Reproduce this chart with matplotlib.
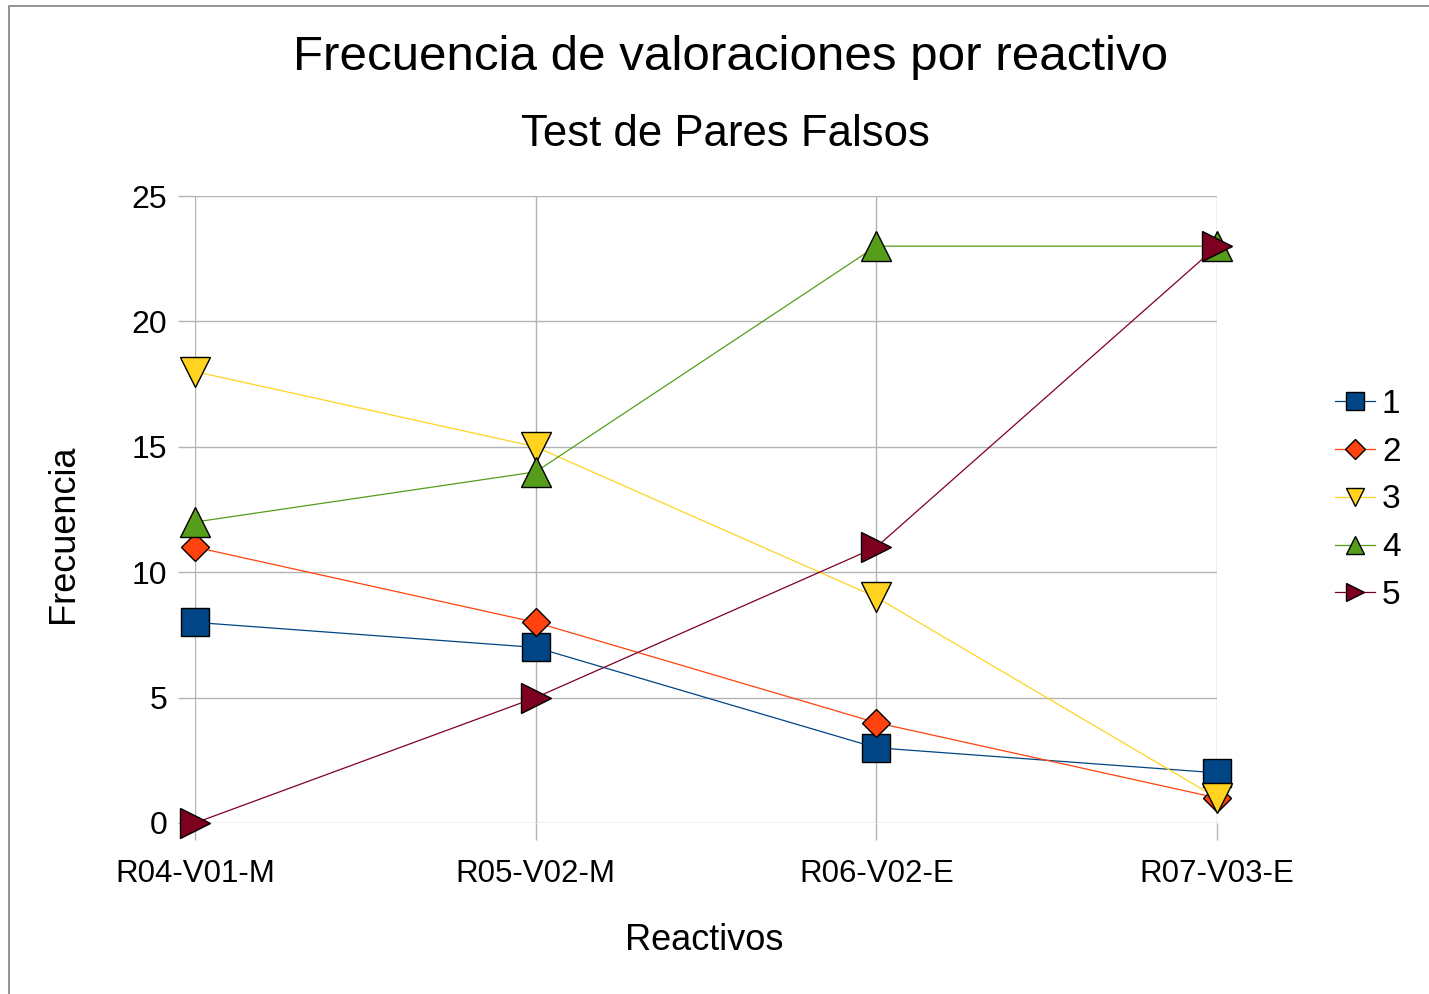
import matplotlib
matplotlib.use("Agg")
import matplotlib.pyplot as plt
from matplotlib.patches import Rectangle
from matplotlib.lines import Line2D

plt.rcParams['font.family'] = ['Liberation Sans', 'DejaVu Sans']

categories = ["R04-V01-M", "R05-V02-M", "R06-V02-E", "R07-V03-E"]
series_names = ["1", "2", "3", "4", "5"]
s1 = [8, 7, 3, 2]
s2 = [11, 8, 4, 1]
s3 = [18, 15, 9, 1]
s4 = [12, 14, 23, 23]
s5 = [0, 5, 11, 23]
yticks = [0, 5, 10, 15, 20, 25]

series = [s1, s2, s3, s4, s5]
colors = ["#004586", "#ff420e", "#ffd320", "#579d1c", "#7e0021"]
markers = ["s", "D", "v", "^", ">"]
msizes = [20, 14, 21, 21, 21]
leg_sizes = [13, 10, 13, 13, 13]

fig = plt.figure(figsize=(14.29, 9.94), dpi=100)
ax = fig.add_axes([195/1429, 1-823/994, (1217-195)/1429, (823-196)/994])

x = list(range(len(categories)))
for vals, c, m, ms in zip(series, colors, markers, msizes):
    ax.plot(x, vals, color=c, lw=0.9, marker=m, markersize=ms,
            markerfacecolor=c, markeredgecolor="black", markeredgewidth=1.0,
            clip_on=False, zorder=3)

ax.set_xlim(0, 3)
ax.set_ylim(0, 25)
ax.set_xticks(x)
ax.set_xticklabels(categories, fontsize=22.5)
ax.set_yticks(yticks)
ax.set_yticklabels([str(v) for v in yticks], fontsize=23)
ax.grid(True, color="#b3b3b3", lw=1.0)
ax.set_axisbelow(True)
for sp in ax.spines.values():
    sp.set_visible(False)
ax.tick_params(axis='both', length=12, width=1.0, color="#b3b3b3")
ax.tick_params(axis='y', pad=8)
ax.tick_params(axis='x', pad=14)

ax.set_xlabel("Reactivos", fontsize=26, va="center")
ax.set_ylabel("Frecuencia", fontsize=26, va="center")
ax.xaxis.set_label_coords((704-195)/1022, (823-941)/627)
ax.yaxis.set_label_coords((63-195)/1022, (823-534)/627)

fig.text(0.511, 1-57/994, "Frecuencia de valoraciones por reactivo", fontsize=35.5,
         ha="center", va="center")
fig.text(0.508, 1-134/994, "Test de Pares Falsos", fontsize=31.5,
         ha="center", va="center")

handles = [Line2D([0], [0], color=c, lw=0.9, marker=m, markersize=ms,
                  markerfacecolor=c, markeredgecolor="black", markeredgewidth=1.0)
           for c, m, ms in zip(colors, markers, leg_sizes)]
fig.legend(handles, series_names, loc="center left", bbox_to_anchor=(1322/1429, 1-500/994),
           frameon=False, fontsize=24, handlelength=1.2, labelspacing=0.5,
           handletextpad=0.2, borderaxespad=0)

fig.patches.append(Rectangle((9/1429, -0.1), 2, 1.1 - 6/994, transform=fig.transFigure,
                             fill=False, edgecolor="#808080", lw=1.2))

fig.savefig("out.png", dpi=100)
